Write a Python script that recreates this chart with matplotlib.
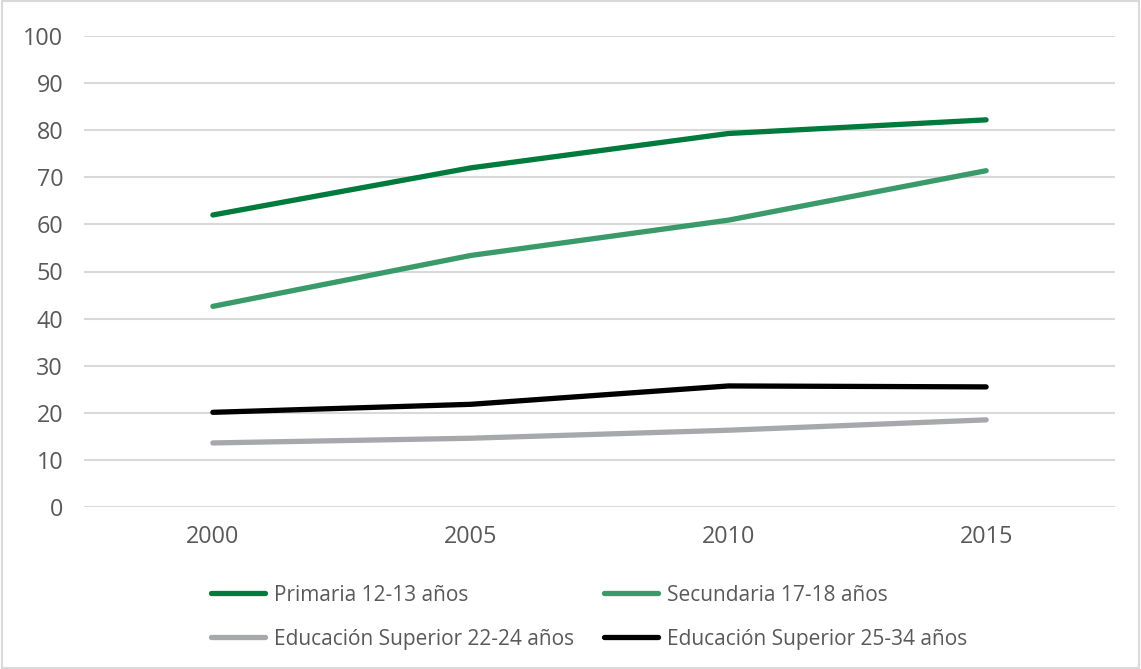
import matplotlib
matplotlib.use("Agg")
import matplotlib.pyplot as plt
from matplotlib.patches import Rectangle

years = ["2000", "2005", "2010", "2015"]
primaria = [62.0, 72.0, 79.3, 82.2]
secundaria = [42.6, 53.4, 60.9, 71.4]
sup_22_24 = [13.6, 14.6, 16.3, 18.5]
sup_25_34 = [20.1, 21.8, 25.7, 25.5]

labels = ["Primaria 12-13 años", "Secundaria 17-18 años",
          "Educación Superior 22-24 años", "Educación Superior 25-34 años"]
colors = ["#007A3D", "#3A9A69", "#A7A8AC", "#000000"]

plt.rcParams['font.family'] = ['Open Sans', 'DejaVu Sans']
text_color = "#595959"

fig = plt.figure(figsize=(11.41, 6.69), dpi=100)
ax = fig.add_axes([84/1141, 1-507/669, (1115-84)/1141, (507-36)/669])

x = list(range(len(years)))
series = [primaria, secundaria, sup_22_24, sup_25_34]
handles = []
for s, c, l in zip(series, colors, labels):
    h, = ax.plot(x, s, color=c, lw=3.8, solid_capstyle='round', label=l)
    handles.append(h)

ax.set_xlim(-0.5, len(years) - 0.5)
ax.set_ylim(0, 100)
ax.set_yticks(range(0, 101, 10))
ax.set_xticks(x)
ax.set_xticklabels(years)
ax.grid(axis='y', color="#D9D9D9", lw=1.5)
ax.set_axisbelow(True)
for sp in ax.spines.values():
    sp.set_visible(False)
ax.tick_params(axis='both', length=0, labelsize=16.8, colors=text_color)
ax.tick_params(axis='y', pad=15)
ax.tick_params(axis='x', pad=13)

order = [0, 2, 1, 3]
leg = fig.legend(handles=[handles[i] for i in order],
                 labels=[labels[i] for i in order], ncol=2, loc='upper left',
                 bbox_to_anchor=(192/1141, 1-566/669), frameon=False,
                 fontsize=15, handlelength=2.6, handletextpad=0.45,
                 columnspacing=1.4, labelspacing=1.1, labelcolor=text_color)

fig.patches.append(Rectangle((0.002, 0.002), 0.996, 0.996, transform=fig.transFigure,
                             fill=False, edgecolor="#D9D9D9", lw=1.5))

fig.savefig("out.png", dpi=100)
